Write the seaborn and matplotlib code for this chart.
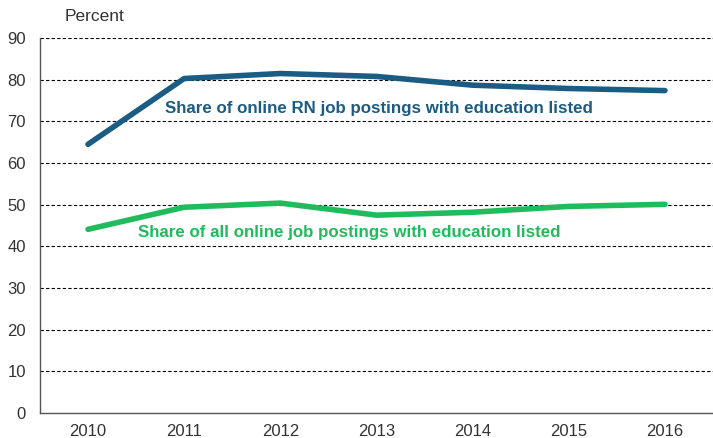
import pandas as pd
import matplotlib.pyplot as plt
import seaborn as sns

# Data
years = ['2010', '2011', '2012', '2013', '2014', '2015', '2016']
rn_share = [64.5, 80.3, 81.5, 80.8, 78.7, 77.9, 77.4]
all_share = [44.1, 49.4, 50.4, 47.5, 48.2, 49.6, 50.1]

df = pd.DataFrame({'year': years, 'rn': rn_share, 'all': all_share})
df['x'] = range(len(years))

sns.set_style('white')
plt.rcParams['font.family'] = ['Liberation Sans', 'DejaVu Sans']

blue = '#1b5c84'
green = '#1fbb5c'

fig = plt.figure(figsize=(7.13, 4.38), dpi=100)
ax = fig.add_axes([0.056, 0.057, 0.944, 0.856])

# dashed gridlines
for v in range(10, 100, 10):
    ax.axhline(v, color='black', lw=0.8, ls=(0, (3, 2)), zorder=1)

sns.lineplot(data=df, x='x', y='rn', color=blue, lw=4, ax=ax, zorder=3)
sns.lineplot(data=df, x='x', y='all', color=green, lw=4, ax=ax, zorder=3)

ax.text(3.03, 73.0, 'Share of online RN job postings with education listed',
        color=blue, fontsize=12.2, fontweight='bold', ha='center', va='center')
ax.text(2.72, 43.3, 'Share of all online job postings with education listed',
        color=green, fontsize=12.2, fontweight='bold', ha='center', va='center')

ax.set_xlim(-0.5, 6.5)
ax.set_ylim(0, 90)
ax.set_yticks(range(0, 100, 10))
ax.set_xticks(df['x'])
ax.set_xticklabels(years)
ax.set_xticks([i + 0.5 for i in range(6)], minor=True)
ax.tick_params(axis='x', which='major', length=0, pad=8, labelsize=12, labelcolor='#333333')
ax.tick_params(axis='x', which='minor', direction='in', length=4, color='#555555')
ax.tick_params(axis='y', length=0, pad=10, labelsize=12, labelcolor='#333333')
ax.set_xlabel('')
ax.set_ylabel('')

for s in ['top', 'right']:
    ax.spines[s].set_visible(False)
for s in ['left', 'bottom']:
    ax.spines[s].set_color('#555555')
    ax.spines[s].set_linewidth(1.0)

fig.text(0.091, 0.962, 'Percent', fontsize=12.5, color='#333333', va='center')

fig.savefig('out.png', dpi=100)
